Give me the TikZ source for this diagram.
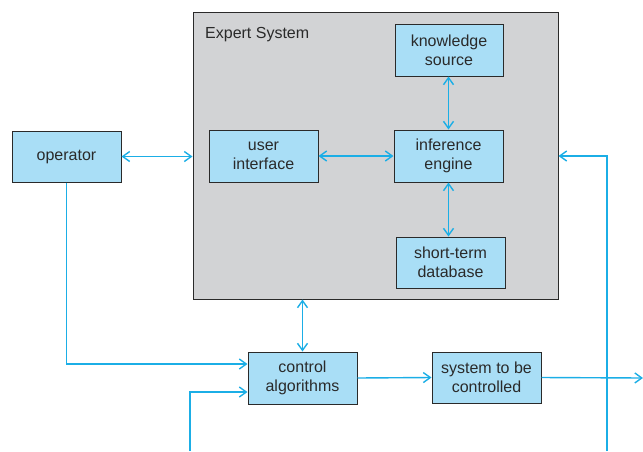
\documentclass[tikz,border=0pt]{standalone}
\usepackage{fontspec}
\setmainfont{Liberation Sans}
\usetikzlibrary{arrows.meta}
\definecolor{linec}{HTML}{1BAEE6}
\definecolor{boxfill}{HTML}{A9DEF6}
\definecolor{esfill}{HTML}{D2D3D5}
\definecolor{txt}{HTML}{2A2A2A}
\begin{document}
\begin{tikzpicture}[x=1pt,y=-1pt,
  box/.style={draw=txt, line width=1pt, fill=boxfill, inner sep=0pt, align=center,
    font=\fontsize{16}{19}\selectfont, text=txt},
  conn/.style={draw=linec, line width=1.4pt, -{Straight Barb[length=7pt,width=10pt,line width=1.4pt]}},
  bconn/.style={conn, {Straight Barb[length=7pt,width=10pt,line width=1.4pt]}-{Straight Barb[length=7pt,width=10pt,line width=1.4pt]}}]
\useasboundingbox (0,0) rectangle (643,451);
\node[draw=txt, line width=1pt, fill=esfill, minimum width=365pt, minimum height=287pt, inner sep=0pt] (es) at (375.5,155.5) {};
\node[anchor=base west, inner sep=0pt, font=\fontsize{16}{19}\selectfont, text=txt] (estitle) at (205,38) {Expert System};
\node[box, minimum width=108pt, minimum height=52pt] (ks) at (449,50) {knowledge\\source};
\node[box, minimum width=109pt, minimum height=52pt] (ui) at (263.5,156) {user\\interface};
\node[box, minimum width=109pt, minimum height=52pt] (ie) at (448.5,156) {inference\\engine};
\node[box, minimum width=109pt, minimum height=51pt] (st) at (450.5,262.5) {short-term\\database};
\node[box, minimum width=109pt, minimum height=51pt] (op) at (66.5,156.5) {operator};
\node[box, minimum width=109pt, minimum height=52pt] (ca) at (302.5,378) {control\\algorithms};
\node[box, minimum width=109pt, minimum height=51pt] (sys) at (486.5,377.5) {system to be\\controlled};
\coordinate (inlow) at (190,451);
\coordinate (outr) at (643,378);
\coordinate (fbk) at (607,451);
\draw[bconn] (op.east) -- (es.west |- op.east);
\draw[bconn] (ui.east) -- (ie.west);
\draw[bconn] (ks.south -| ie.north) -- (ie.north);
\draw[bconn] (ie.south) -- (ie.south |- st.north);
\draw[bconn] (ca.north |- es.south) -- (ca.north);
\draw[conn] (op.south) |- ([yshift=14pt]ca.west);
\draw[conn] (inlow) |- ([yshift=-14pt]ca.west);
\draw[conn] (ca.east) -- (sys.west);
\draw[conn] (sys.east) -- (outr);
\draw[conn] (fbk) |- (es.east |- ie.east);
\end{tikzpicture}
\end{document}
